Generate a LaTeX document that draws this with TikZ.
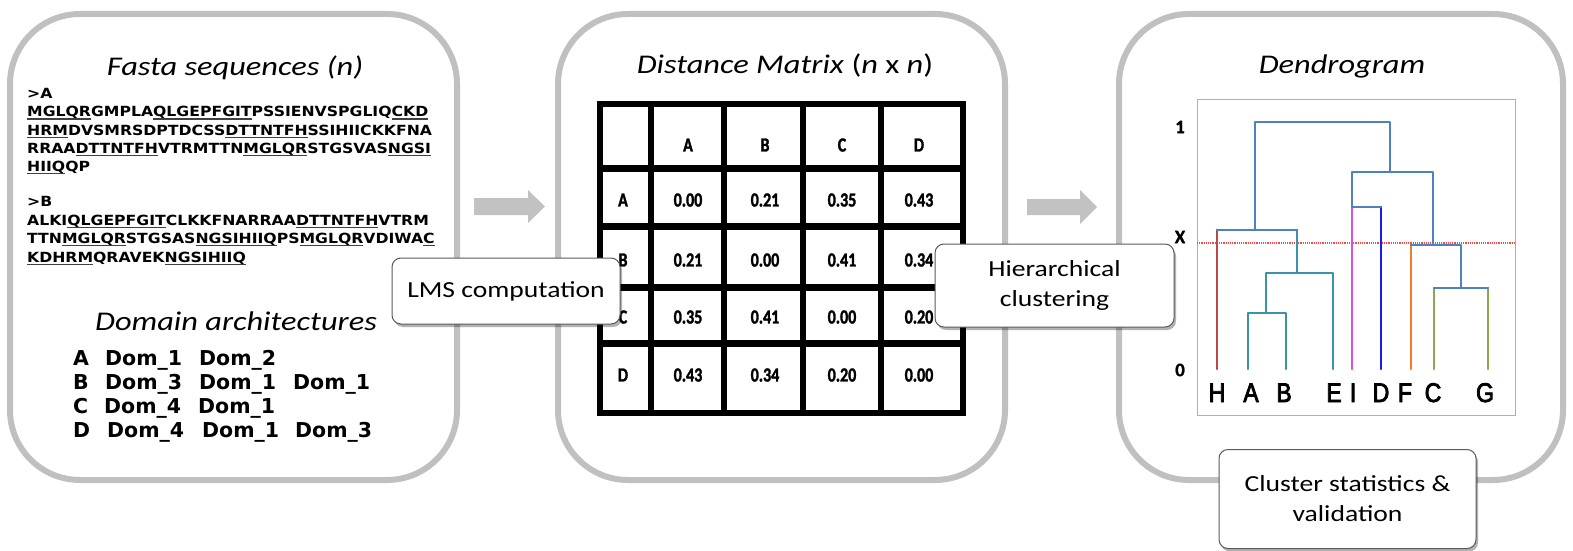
\documentclass[tikz,border=0pt]{standalone}
\usepackage{fontspec}
\setmainfont{Carlito}
\newfontfamily\calw[FakeStretch=1.2]{Carlito}
\newfontfamily\mtxf[FakeStretch=0.8,FakeBold=1.5]{Carlito Bold}
\newfontfamily\cbold[FakeBold=1]{Carlito Bold}
\newfontfamily\seqf[FakeStretch=1.12]{DejaVu Sans}
\newfontfamily\domf{DejaVu Sans}
\newfontfamily\leaff[FakeStretch=0.85,FakeBold=3]{Liberation Sans}
\usetikzlibrary{shadows}
\definecolor{panelgray}{RGB}{192,192,192}
\definecolor{arrowgray}{RGB}{194,194,194}
\definecolor{steel}{RGB}{79,129,189}
\definecolor{tealc}{RGB}{58,148,168}
\definecolor{redc}{RGB}{190,70,70}
\definecolor{magc}{RGB}{215,80,230}
\definecolor{bluec}{RGB}{25,25,240}
\definecolor{orangec}{RGB}{240,125,40}
\definecolor{greenc}{RGB}{138,168,80}
\definecolor{framec}{RGB}{178,165,220}
\definecolor{dotred}{RGB}{250,70,70}
\definecolor{boxedge}{RGB}{90,90,90}
\newcommand{\ulx}[1]{\setbox0\hbox{#1}\rlap{\color{black!75}\rule[-3pt]{\wd0}{1.3pt}}\box0}
\tikzset{
  panel/.style={draw=panelgray, line width=6pt, rounded corners=70pt, fill=white},
  ttl/.style={inner sep=0pt, anchor=base, font=\calw\fontsize{27}{32}\selectfont},
  seqline/.style={inner sep=0pt, anchor=base west, font=\seqf\bfseries\fontsize{14}{18}\selectfont},
  domline/.style={inner sep=0pt, anchor=base west, font=\domf\bfseries\fontsize{20.5}{24}\selectfont},
  cell/.style={inner sep=0pt, font=\mtxf\fontsize{20}{24}\selectfont},
  leaf/.style={inner sep=0pt, anchor=base, font=\leaff\fontsize{27}{30}\selectfont},
  ylab/.style={inner sep=0pt, font=\cbold\fontsize{19}{22}\selectfont},
  tree/.style={line width=2.6pt, line cap=round, line join=round},
  procbox/.style={draw=boxedge, line width=1pt, fill=white, rounded corners=9pt,
    inner sep=0pt, align=center, font=\calw\fontsize{23}{30}\selectfont,
    drop shadow={shadow xshift=2pt, shadow yshift=-3pt, opacity=0.3, fill=black}},
  gridline/.style={line width=7pt},
  vline/.style={line width=6pt}
}
\begin{document}
\begin{tikzpicture}[x=1pt,y=-1pt]
\useasboundingbox (0,0) rectangle (1573,551);
% panels
\draw[panel] (10,14) rectangle (457,480);
\draw[panel] (558,14) rectangle (1005,480);
\draw[panel] (1119,14) rectangle (1563,480);
% block arrows
\fill[arrowgray] (474,198) -- (528,198) -- (528,190) -- (545,206.5) -- (528,223) -- (528,215) -- (474,215) -- cycle;
\fill[arrowgray] (1027,199) -- (1080,199) -- (1080,190) -- (1097,207) -- (1080,224) -- (1080,215) -- (1027,215) -- cycle;
% titles
\node[ttl] (t1) at (235,75) {\itshape Fasta sequences (n)};
\node[ttl] (t2) at (785,74) {\textit{Distance Matrix} (\textit{n} x \textit{n})};
\node[ttl] (t3) at (1342,74) {\itshape Dendrogram};
\node[ttl] (t4) at (236,330) {\itshape Domain architectures};
% sequences
\node[seqline] (sa0) at (27,98) {>A};
\node[seqline] (sa1) at (27,116.5) {\ulx{MGLQR}GMPLA\ulx{QLGEPFGIT}PSSIENVSPGLIQ\ulx{CKD}};
\node[seqline] (sa2) at (27,135) {\ulx{HRM}DVSMRSDPTDCSS\ulx{DTTNTFH}SSIHIICKKFNA};
\node[seqline] (sa3) at (27,153) {RRAA\ulx{DTTNTFH}VTRMTTN\ulx{MGLQR}STGSVAS\ulx{NGSI}};
\node[seqline] (sa4) at (27,171) {\ulx{HIIQ}QP};
\node[seqline] (sb0) at (27,206) {>B};
\node[seqline] (sb1) at (27,225) {ALKI\ulx{QLGEPFGIT}CLKKFNARRAA\ulx{DTTNTFH}VTRM};
\node[seqline] (sb2) at (27,243) {TTN\ulx{MGLQR}STGSAS\ulx{NGSIHIIQ}PS\ulx{MGLQR}VDIWA\ulx{C}};
\node[seqline] (sb3) at (27,262) {\ulx{KDHRM}QRAVEK\ulx{NGSIHIIQ}};
% domain architectures
\node[domline] (da) at (73,365) {A};
\node[domline] (da1) at (105,365) {Dom\_1};
\node[domline] (da2) at (199,365) {Dom\_2};
\node[domline] (db) at (73,389) {B};
\node[domline] (db1) at (105,389) {Dom\_3};
\node[domline] (db2) at (199,389) {Dom\_1};
\node[domline] (db3) at (293,389) {Dom\_1};
\node[domline] (dc) at (73,413) {C};
\node[domline] (dc1) at (104,413) {Dom\_4};
\node[domline] (dc2) at (198,413) {Dom\_1};
\node[domline] (dd) at (73,437) {D};
\node[domline] (dd1) at (107,437) {Dom\_4};
\node[domline] (dd2) at (202,437) {Dom\_1};
\node[domline] (dd3) at (295,437) {Dom\_3};
% distance matrix
\foreach \yy in {168,226,287,343} \draw[gridline] (600,\yy) -- (963,\yy);
\foreach \xx in {651,724,803,881} \draw[vline] (\xx,104) -- (\xx,413);
\draw[line width=6.5pt, line join=miter] (600,104) rectangle (963,413);
\node[cell] (hA) at (688,145) {A};
\node[cell] (hB) at (765,145) {B};
\node[cell] (hC) at (842,145) {C};
\node[cell] (hD) at (919,145) {D};
\node[cell] (rA) at (623,200) {A};
\node[cell] (rB) at (623,260) {B};
\node[cell] (rC) at (623,317) {C};
\node[cell] (rD) at (623,375) {D};
\node[cell] (aa) at (688,200) {0.00};
\node[cell] (ab) at (765,200) {0.21};
\node[cell] (ac) at (842,200) {0.35};
\node[cell] (ad) at (919,200) {0.43};
\node[cell] (ba) at (688,260) {0.21};
\node[cell] (bb) at (765,260) {0.00};
\node[cell] (bc) at (842,260) {0.41};
\node[cell] (bd) at (919,260) {0.34};
\node[cell] (ca) at (688,317) {0.35};
\node[cell] (cb) at (765,317) {0.41};
\node[cell] (cc) at (842,317) {0.00};
\node[cell] (cd) at (919,317) {0.20};
\node[cell] (xa) at (688,375) {0.43};
\node[cell] (xb) at (765,375) {0.34};
\node[cell] (xc) at (842,375) {0.20};
\node[cell] (xd) at (919,375) {0.00};
% dendrogram
\draw[framec, line width=1pt] (1197,99) rectangle (1515,415);
\draw[dotred, line width=1.2pt, densely dotted] (1197,243) -- (1515,243);
\node[ylab] (y1) at (1180,127) {1};
\node[ylab] (yx) at (1180,237) {X};
\node[ylab] (y0) at (1180,370) {0};
\draw[tree, redc] (1217,369) -- (1217,230);
\draw[tree, tealc] (1248,369) |- (1286,313) -- (1286,369);
\draw[tree, tealc] (1266,313) -- (1266,273) -| (1333,369);
\draw[tree, tealc] (1297,273) -- (1297,230);
\draw[tree, steel] (1217,230) -- (1297,230);
\draw[tree, steel] (1255,230) |- (1390,122) -- (1390,172);
\draw[tree, magc] (1352,369) -- (1352,207);
\draw[tree, bluec] (1381,369) -- (1381,207);
\draw[tree, steel] (1381,207) -- (1352,207) -- (1352,172) -- (1433,172) -- (1433,245);
\draw[tree, orangec] (1411,369) -- (1411,245);
\draw[tree, steel] (1411,245) -- (1461,245) -- (1461,288);
\draw[tree, greenc] (1434,369) -- (1434,288);
\draw[tree, greenc] (1488,369) -- (1488,288);
\draw[tree, steel] (1434,288) -- (1488,288);
\node[leaf] (lH) at (1217,402) {H};
\node[leaf] (lA) at (1251,402) {A};
\node[leaf] (lB) at (1284,402) {B};
\node[leaf] (lE) at (1334,402) {E};
\node[leaf] (lI) at (1353,402) {I};
\node[leaf] (lD) at (1381,402) {D};
\node[leaf] (lF) at (1405,402) {F};
\node[leaf] (lC) at (1433,402) {C};
\node[leaf] (lG) at (1485,402) {G};
% process boxes
\node[procbox, minimum width=228pt, minimum height=66pt] (lms) at (506,291) {LMS computation};
\node[procbox, minimum width=239pt, minimum height=83pt] (hc) at (1054.5,285.5) {Hierarchical\\clustering};
\node[procbox, minimum width=257pt, minimum height=99pt] (cs) at (1347.5,499) {Cluster statistics \&\\validation};
\end{tikzpicture}
\end{document}
